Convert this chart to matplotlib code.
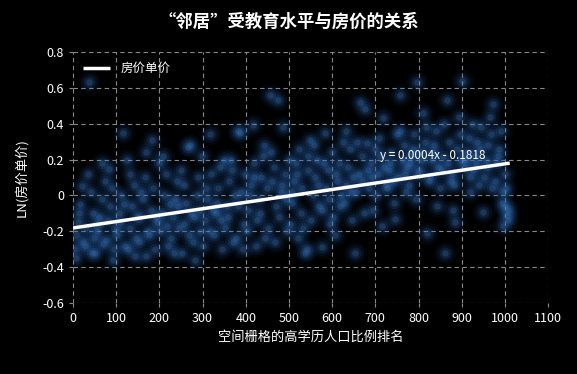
import matplotlib
matplotlib.use("Agg")
import matplotlib.pyplot as plt

plt.rcParams['font.family'] = ['Noto Sans CJK SC', 'DejaVu Sans']

# 空间栅格的高学历人口比例排名 与 LN(房价单价)，按图读取的近似值
rank = [
    3, 8, 12, 17, 21, 24, 6, 15,
    27, 31, 37, 42, 46, 49, 34, 44,
    52, 56, 61, 66, 70, 74, 58, 68,
    77, 81, 86, 90, 95, 99, 83, 93,
    102, 106, 111, 116, 120, 124, 108, 118,
    127, 131, 136, 141, 145, 149, 133, 143,
    152, 156, 161, 166, 170, 174, 158, 168,
    177, 181, 183, 190, 195, 199, 185, 193,
    202, 206, 211, 216, 220, 224, 208, 218,
    227, 231, 236, 241, 245, 249, 233, 243,
    252, 256, 261, 266, 271, 274, 258, 268,
    277, 281, 286, 290, 295, 299, 283, 293,
    302, 306, 311, 317, 320, 324, 308, 318,
    327, 331, 336, 341, 345, 349, 333, 343,
    352, 356, 361, 366, 370, 374, 358, 368,
    377, 382, 386, 390, 395, 399, 383, 393,
    402, 406, 411, 417, 420, 424, 408, 418,
    427, 431, 436, 441, 445, 449, 433, 443,
    452, 456, 461, 466, 470, 475, 458, 468,
    477, 481, 486, 490, 495, 499, 483, 493,
    502, 506, 511, 516, 520, 524, 508, 518,
    527, 531, 537, 541, 545, 549, 533, 543,
    552, 556, 561, 566, 570, 576, 558, 568,
    577, 583, 586, 590, 595, 599, 581, 593,
    602, 606, 611, 616, 620, 624, 608, 618,
    627, 631, 636, 641, 645, 649, 633, 643,
    653, 656, 661, 664, 670, 674, 658, 668,
    676, 681, 686, 690, 695, 699, 683, 693,
    702, 706, 711, 715, 718, 724, 708, 720,
    727, 731, 736, 741, 745, 749, 733, 743,
    752, 757, 761, 766, 770, 774, 758, 768,
    777, 781, 786, 790, 796, 799, 783, 793,
    802, 806, 810, 816, 819, 824, 808, 818,
    827, 831, 836, 841, 845, 849, 833, 843,
    852, 856, 861, 865, 870, 874, 858, 868,
    877, 880, 884, 890, 895, 899, 883, 893,
    900, 906, 911, 916, 920, 924, 908, 918,
    927, 931, 936, 941, 945, 949, 933, 943,
    952, 956, 961, 965, 970, 972, 958, 968,
    977, 981, 986, 990, 995, 999, 983, 993,
    1001, 1004, 1006, 1008, 996, 1002,
]
ln_price = [
    -0.30, -0.22, -0.15, -0.05, 0.05, -0.26, -0.35, -0.10,
    -0.28, -0.18, 0.63, 0.02, -0.10, -0.24, 0.12, -0.32,
    -0.32, -0.20, -0.12, -0.02, -0.27, 0.08, -0.16, 0.18,
    -0.25, -0.14, -0.06, 0.04, -0.30, -0.19, 0.15, -0.36,
    -0.22, -0.10, 0.00, 0.35, -0.28, 0.20, -0.15, -0.05,
    -0.30, -0.18, -0.06, 0.06, -0.24, -0.12, 0.12, -0.34,
    -0.26, -0.12, -0.02, 0.10, -0.34, -0.20, 0.02, 0.24,
    -0.22, -0.08, 0.31, -0.30, -0.15, 0.18, 0.04, -0.12,
    -0.20, -0.10, 0.00, 0.12, -0.28, -0.05, 0.22, -0.17,
    -0.24, -0.12, -0.02, 0.08, -0.18, 0.14, -0.32, -0.06,
    -0.32, -0.16, -0.04, 0.27, 0.28, -0.10, 0.06, -0.22,
    -0.26, -0.12, 0.00, 0.10, -0.20, 0.22, -0.36, -0.08,
    -0.28, -0.14, -0.02, 0.34, 0.12, -0.08, 0.04, -0.20,
    -0.22, -0.10, 0.04, 0.16, -0.30, 0.20, -0.04, -0.14,
    -0.18, -0.06, 0.08, 0.20, -0.26, 0.00, -0.12, 0.14,
    -0.24, 0.36, 0.35, 0.02, -0.16, 0.12, -0.06, -0.30,
    -0.20, -0.08, 0.06, 0.39, 0.18, -0.28, 0.00, 0.10,
    -0.14, -0.02, 0.10, 0.22, -0.24, 0.04, -0.10, 0.28,
    -0.18, 0.56, 0.08, 0.16, -0.06, 0.53, 0.24, -0.26,
    -0.12, 0.02, 0.38, 0.12, -0.20, 0.20, 0.06, -0.02,
    -0.16, -0.04, 0.08, 0.18, -0.24, 0.26, 0.02, 0.12,
    -0.10, 0.04, -0.32, -0.30, 0.14, 0.31, -0.18, 0.22,
    -0.14, 0.00, 0.10, 0.20, -0.06, -0.29, 0.28, 0.06,
    -0.08, 0.35, 0.04, 0.14, -0.16, 0.24, 0.18, -0.02,
    -0.12, -0.22, 0.08, 0.18, 0.00, 0.30, 0.12, -0.06,
    -0.04, 0.06, 0.16, 0.26, -0.14, 0.10, 0.36, 0.02,
    -0.32, 0.02, 0.12, 0.52, 0.22, -0.10, 0.30, 0.08,
    0.48, 0.29, 0.04, 0.18, -0.08, 0.26, 0.14, 0.10,
    0.00, 0.12, 0.22, -0.17, 0.43, 0.06, 0.32, 0.16,
    0.04, 0.14, 0.24, 0.08, -0.13, 0.34, 0.18, -0.04,
    0.10, 0.56, 0.20, 0.28, 0.02, 0.16, 0.36, 0.12,
    0.06, 0.18, 0.26, 0.34, 0.63, 0.12, 0.22, -0.02,
    0.14, 0.24, 0.46, 0.30, -0.21, 0.08, 0.20, 0.38,
    0.10, 0.20, 0.28, 0.36, 0.16, 0.04, 0.24, -0.06,
    0.14, 0.22, -0.32, 0.53, 0.30, 0.08, 0.40, 0.18,
    0.12, -0.08, -0.15, 0.26, 0.34, 0.20, 0.06, 0.44,
    0.64, 0.16, 0.24, 0.32, 0.10, 0.40, 0.20, 0.02,
    0.14, 0.22, 0.30, 0.06, 0.38, -0.09, 0.18, 0.26,
    0.10, 0.20, 0.28, 0.44, 0.04, 0.51, 0.16, 0.34,
    0.08, 0.18, 0.26, 0.36, 0.02, 0.12, 0.22, -0.04,
    -0.06, -0.11, -0.14, -0.08, -0.17, 0.04,
]

# 趋势线 y = 0.0004x - 0.1818（图上线段的实际终点）
trend_x = [0, 1011]
trend_y = [-0.1818, 0.18]

fig = plt.figure(figsize=(5.77, 3.74), dpi=100, facecolor='black')
ax = fig.add_axes([0.1265, 0.19, 0.8235, 0.671])
ax.set_facecolor('black')

# 模糊发光的散点：多层叠加，越往里越亮
ax.scatter(rank, ln_price, s=260, color='#1f4f8f', alpha=0.07, linewidths=0, zorder=2)
ax.scatter(rank, ln_price, s=150, color='#2a62ab', alpha=0.10, linewidths=0, zorder=2)
ax.scatter(rank, ln_price, s=70, color='#3473c2', alpha=0.16, linewidths=0, zorder=2)
ax.scatter(rank, ln_price, s=22, color='#4f8fdb', alpha=0.22, linewidths=0, zorder=2)

ax.plot(trend_x, trend_y, color='white', lw=2.5, solid_capstyle='butt', zorder=4, label='房价单价')
ax.text(710, 0.205, 'y = 0.0004x - 0.1818', color='white', fontsize=8.5, zorder=5)

ax.set_xlim(0, 1100)
ax.set_ylim(-0.6, 0.8)
ax.set_xticks(range(0, 1101, 100))
ax.set_yticks([-0.6, -0.4, -0.2, 0, 0.2, 0.4, 0.6, 0.8])
ax.set_yticklabels(['-0.6', '-0.4', '-0.2', '0', '0.2', '0.4', '0.6', '0.8'])
ax.grid(True, color='#8a8a8a', linestyle=(0, (4, 3)), linewidth=0.8, zorder=1)
ax.set_axisbelow(True)
for s in ax.spines.values():
    s.set_visible(False)
ax.tick_params(colors='white', labelsize=9, length=3, color='#8a8a8a')

ax.set_xlabel('空间栅格的高学历人口比例排名', color='white', fontsize=9.5, labelpad=4)
ax.set_ylabel('LN(房价单价)', color='white', fontsize=9.5, labelpad=10)
fig.suptitle('“邻居”受教育水平与房价的关系', color='white', fontsize=12.5,
             fontweight='bold', y=0.965)

leg = ax.legend(loc='upper left', frameon=False, fontsize=9, handlelength=2.2,
                borderaxespad=0.4)
for t in leg.get_texts():
    t.set_color('white')

fig.savefig('out.png', dpi=100, facecolor='black')
